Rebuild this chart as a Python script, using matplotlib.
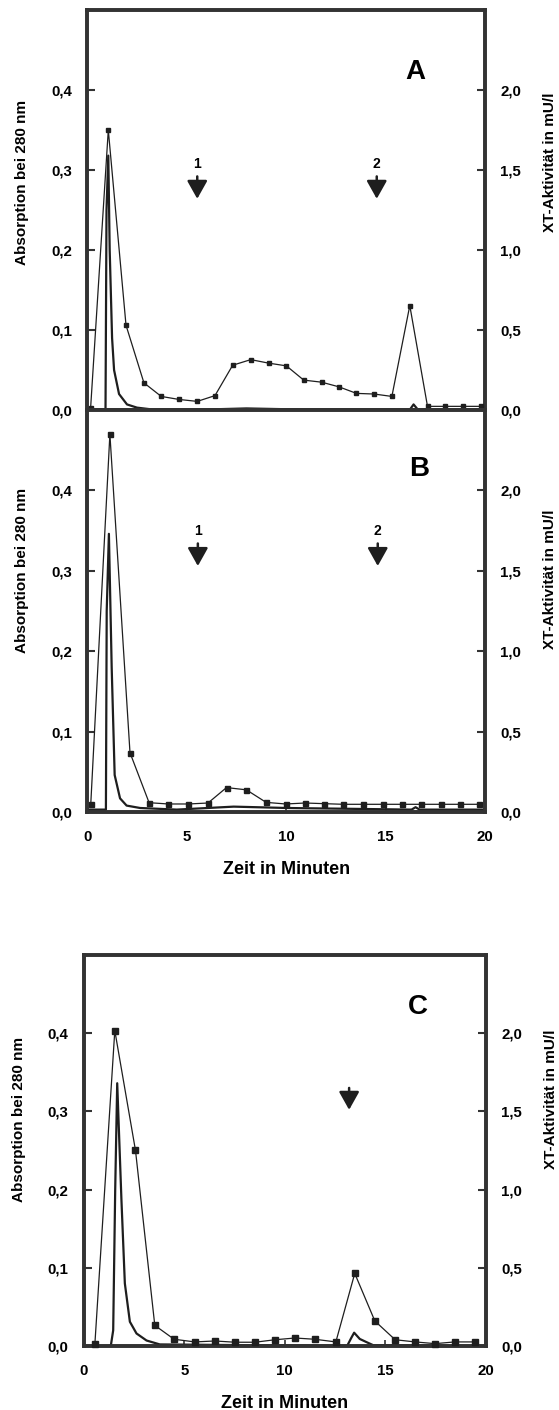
import matplotlib
matplotlib.use("Agg")
import matplotlib.pyplot as plt

plt.rcParams['font.family'] = ['Liberation Sans', 'DejaVu Sans']

# --- Panel A ---
a_xt_t = [0.17, 1.06, 1.95, 2.85, 3.72, 4.62, 5.53, 6.42, 7.31, 8.22, 9.12, 10.01,
          10.88, 11.78, 12.65, 13.53, 14.42, 15.31, 16.21, 17.10, 18.0, 18.89, 19.78]
a_xt = [0.01, 1.75, 0.53, 0.17, 0.085, 0.066, 0.054, 0.09, 0.28, 0.315, 0.293, 0.276,
        0.187, 0.174, 0.145, 0.104, 0.10, 0.085, 0.653, 0.023, 0.023, 0.023, 0.023]
a_abs_t = [0, 0.92, 0.97, 1.06, 1.13, 1.25, 1.35, 1.6, 2.0, 2.5, 3.5, 5.0, 6.5, 8.0,
           10.0, 12.0, 14.0, 16.2, 16.4, 16.6, 17.0, 20.0]
a_abs = [0.001, 0.001, 0.25, 0.318, 0.2, 0.09, 0.05, 0.02, 0.007, 0.003, 0.0, 0.0, 0.001,
         0.002, 0.001, 0.0, 0.0, 0.0, 0.007, 0.001, 0.0, 0.0]

# --- Panel B ---
b_xt_t = [0.18, 1.14, 2.15, 3.11, 4.08, 5.08, 6.07, 7.0, 8.0, 8.99, 9.97, 10.96, 11.9,
          12.87, 13.85, 14.84, 15.8, 16.77, 17.76, 18.74, 19.7]
b_xt = [0.052, 2.35, 0.369, 0.058, 0.05, 0.05, 0.056, 0.152, 0.138, 0.06, 0.05, 0.056,
        0.052, 0.048, 0.048, 0.048, 0.048, 0.048, 0.048, 0.048, 0.048]
b_abs_t = [0, 0.94, 0.98, 1.09, 1.23, 1.38, 1.65, 1.98, 2.66, 4.5, 7.36, 10.05, 16.3,
           16.5, 16.7, 20.0]
b_abs = [0.003, 0.003, 0.25, 0.346, 0.18, 0.046, 0.017, 0.008, 0.005, 0.003, 0.0067,
         0.005, 0.003, 0.006, 0.003, 0.003]

# --- Panel C ---
c_xt_t = [0.55, 1.54, 2.57, 3.53, 4.49, 5.52, 6.52, 7.53, 8.51, 9.52, 10.51, 11.49,
          12.54, 13.48, 14.48, 15.49, 16.48, 17.48, 18.46, 19.47]
c_xt = [0.015, 2.017, 1.25, 0.132, 0.043, 0.026, 0.032, 0.024, 0.024, 0.04, 0.051,
        0.043, 0.026, 0.464, 0.16, 0.04, 0.026, 0.015, 0.026, 0.026]
c_abs_t = [0, 1.34, 1.46, 1.56, 1.66, 1.87, 2.04, 2.29, 2.62, 3.12, 3.78, 13.1, 13.3,
           13.45, 13.73, 14.06, 14.4, 20.0]
c_abs = [0.0, 0.0, 0.02, 0.2, 0.336, 0.187, 0.08, 0.031, 0.016, 0.007, 0.002, 0.0,
         0.01, 0.017, 0.009, 0.005, 0.001, 0.0]

left_ticks = [0.0, 0.1, 0.2, 0.3, 0.4]
left_labels = ['0,0', '0,1', '0,2', '0,3', '0,4']
right_ticks = [0.0, 0.5, 1.0, 1.5, 2.0]
right_labels = ['0,0', '0,5', '1,0', '1,5', '2,0']
x_ticks = [0, 5, 10, 15, 20]

dark = '#1e1e1e'
spine_col = '#333333'


def make_panel(fig, rect, abs_t, abs_v, xt_t, xt_v, letter, arrows, ms, show_x,
               ylab_y, rlab_y):
    ax = fig.add_axes(rect)
    ax2 = ax.twinx()
    ax.set_xlim(0, 20)
    ax.set_ylim(0, 0.5)
    ax2.set_ylim(0, 2.5)

    ax.plot(abs_t, abs_v, color=dark, lw=1.6, zorder=3)
    ax2.plot(xt_t, xt_v, color=dark, lw=0.9, marker='s', ms=ms, mfc=dark,
             mec=dark, clip_on=False, zorder=4)

    for s in list(ax.spines.values()) + list(ax2.spines.values()):
        s.set_linewidth(2.6)
        s.set_color(spine_col)

    ax.set_yticks(left_ticks)
    ax.set_yticklabels(left_labels)
    ax2.set_yticks(right_ticks)
    ax2.set_yticklabels(right_labels)
    for a in (ax, ax2):
        a.tick_params(axis='y', direction='in', length=6, width=1.5, pad=11,
                      labelsize=10.8, colors=spine_col, labelcolor='black')
    for lab in ax.get_yticklabels() + ax2.get_yticklabels():
        lab.set_fontweight('bold')

    ax.set_xticks(x_ticks)
    if show_x:
        ax.tick_params(axis='x', direction='in', length=4, width=1.2, pad=13,
                       labelsize=10.8, colors=spine_col, labelcolor='black')
        for lab in ax.get_xticklabels():
            lab.set_fontweight('bold')
        ax.set_xlabel('Zeit in Minuten', fontsize=13, fontweight='bold', labelpad=12)
    else:
        ax.tick_params(axis='x', length=0, labelbottom=False)

    ax.set_ylabel('Absorption bei 280 nm', fontsize=11, fontweight='bold')
    ax.yaxis.set_label_coords(-0.145, ylab_y)
    ax2.set_ylabel('XT-Aktivität in mU/l', fontsize=11, fontweight='bold')
    ax2.yaxis.set_label_coords(1.145, rlab_y)

    ax.text(letter[1], letter[2], letter[0], fontsize=20, fontweight='bold',
            ha='center', va='center')

    for xa, tail, tip, num in arrows:
        ax.annotate('', xy=(xa, tip), xytext=(xa, tail),
                    arrowprops=dict(arrowstyle='-|>,head_length=0.5,head_width=0.28',
                                    color=dark, lw=1.8, mutation_scale=22,
                                    shrinkA=0, shrinkB=0))
        if num:
            ax.text(xa, tail + 0.016, num, fontsize=10, fontweight='bold',
                    ha='center', va='center')
    return ax


fig = plt.figure(figsize=(5.59, 14.10), dpi=100)

make_panel(fig, [0.156, 0.7092, 0.712, 0.2837], a_abs_t, a_abs, a_xt_t, a_xt,
           ('A', 16.5, 0.422), [(5.53, 0.292, 0.264, '1'), (14.55, 0.292, 0.264, '2')],
           3.2, False, 0.57, 0.62)
make_panel(fig, [0.156, 0.4241, 0.712, 0.2851], b_abs_t, b_abs, b_xt_t, b_xt,
           ('B', 16.7, 0.427), [(5.56, 0.334, 0.306, '1'), (14.6, 0.334, 0.306, '2')],
           3.6, True, 0.60, 0.58)
make_panel(fig, [0.150, 0.0454, 0.719, 0.2773], c_abs_t, c_abs, c_xt_t, c_xt,
           ('C', 16.6, 0.434), [(13.2, 0.330, 0.302, '')],
           4.2, True, 0.58, 0.63)

fig.savefig('out.png', dpi=100)
